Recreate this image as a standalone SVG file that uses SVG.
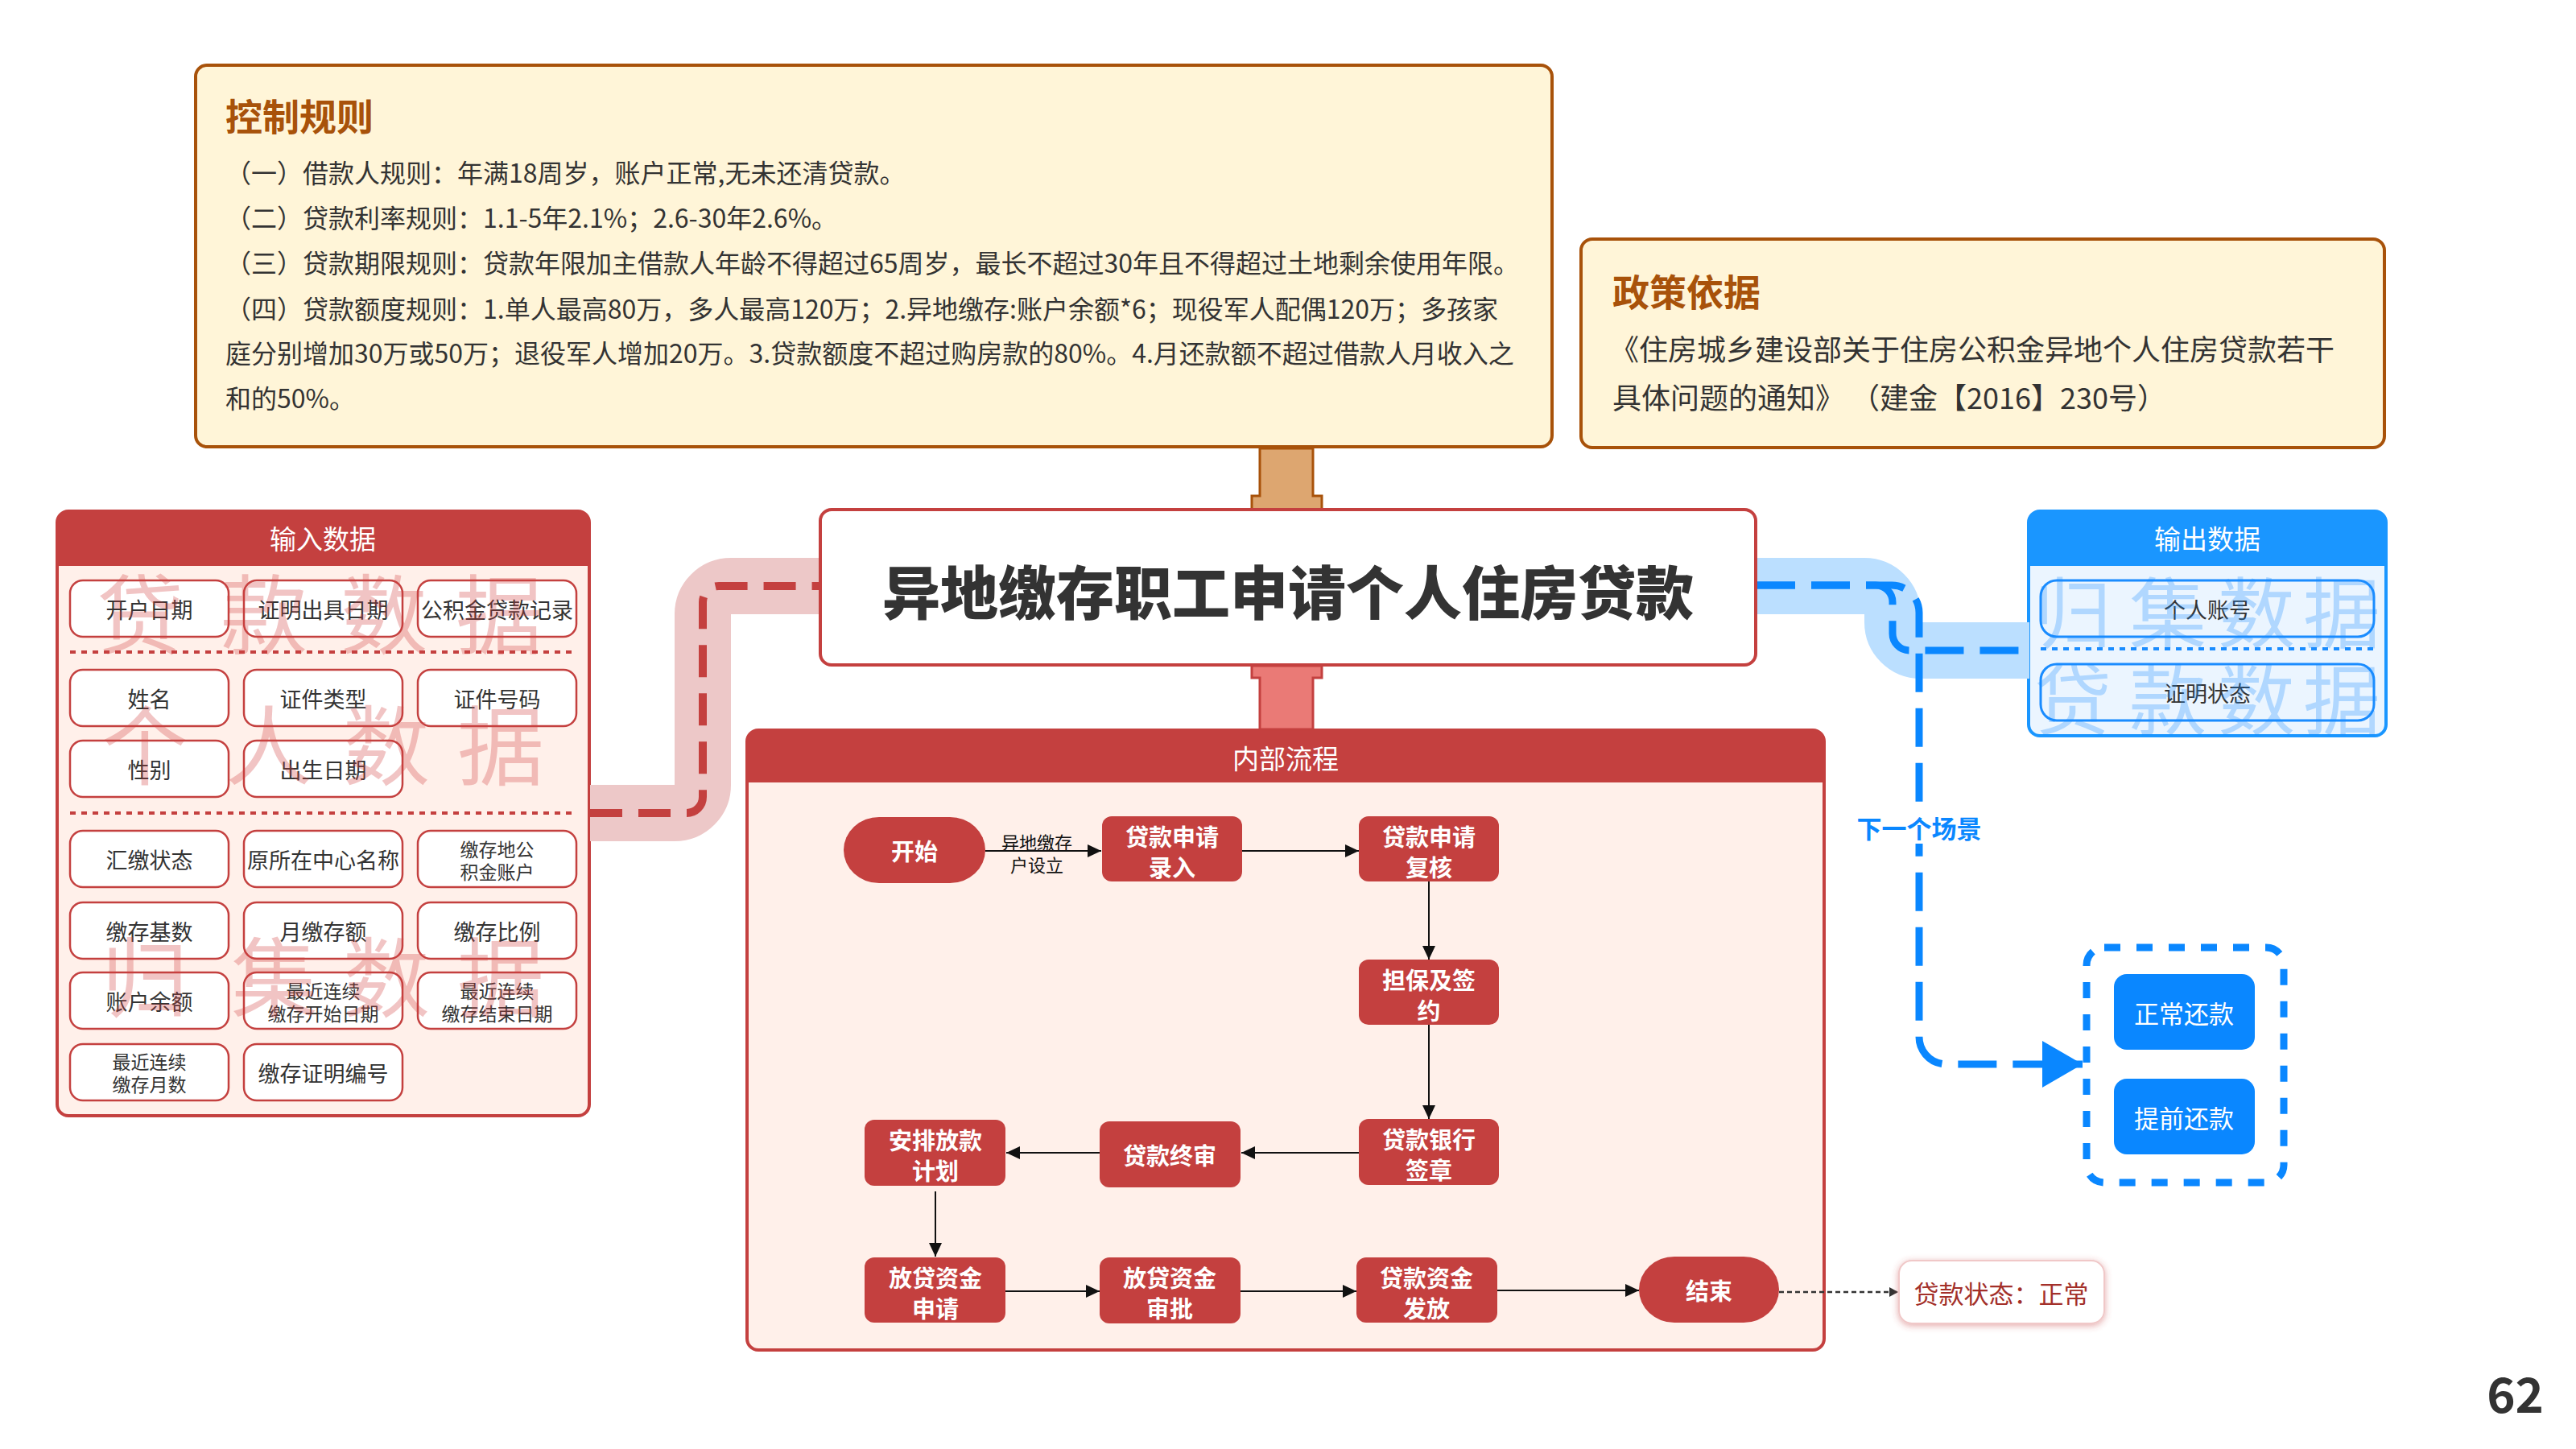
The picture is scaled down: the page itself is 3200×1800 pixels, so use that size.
<svg xmlns="http://www.w3.org/2000/svg" width="3200" height="1800" viewBox="0 0 3200 1800">
<defs>
<style>
text{font-family:"Noto Sans CJK SC","Noto Sans",sans-serif;dominant-baseline:central}
.rule{font-size:32px;fill:#333}
.pol{font-size:36px;fill:#333}
.ttl{font-size:46px;font-weight:bold;fill:#A8520A}
.hdr{font-size:33px;fill:#fff;text-anchor:middle}
.cell{fill:#fff;stroke:#C4403F;stroke-width:2.5}
.ct{font-size:27px;fill:#333;text-anchor:middle}
.ct2{font-size:23px;fill:#333;text-anchor:middle}
.ocell{fill:none;stroke:#1A8CFF;stroke-width:3}
.wmr{font-size:108px;fill:#D24040;opacity:.3;text-anchor:middle}
.wmb{font-size:96px;fill:#1A8CFF;opacity:.28;text-anchor:middle}
.fn{fill:#C4403F}
.ft{font-size:29px;font-weight:bold;fill:#fff;text-anchor:middle}
.flow{stroke:#111;stroke-width:2;fill:none;marker-end:url(#ah)}
.bt{fill:#0A87FF}
.btt{font-size:31px;fill:#fff;text-anchor:middle}
</style>
<marker id="ah" markerUnits="userSpaceOnUse" markerWidth="18" markerHeight="16" refX="17" refY="8" orient="auto"><path d="M0,0 L17,8 L0,16 Z" fill="#111"/></marker>
<marker id="ahs" markerUnits="userSpaceOnUse" markerWidth="12" markerHeight="12" refX="11" refY="6" orient="auto"><path d="M0,0 L11,6 L0,12 Z" fill="#333"/></marker>
<marker id="ahb" markerUnits="userSpaceOnUse" markerWidth="52" markerHeight="60" refX="50" refY="29" orient="auto"><path d="M0,0 L50,29 L0,58 Z" fill="#0A87FF"/></marker>
<filter id="glow" x="-20%" y="-30%" width="140%" height="160%"><feDropShadow dx="0" dy="2" stdDeviation="4" flood-color="#C44040" flood-opacity="0.45"/></filter>
</defs>
<rect width="3200" height="1800" fill="#fff"/>

<g id="control-rules">
<rect x="243" y="81" width="1685" height="474" rx="14" fill="#FFF5D8" stroke="#A8520A" stroke-width="4"/>
<text class="ttl" x="280" y="142">控制规则</text>
<text class="rule" x="280" y="213">（一）借款人规则：年满18周岁，账户正常,无未还清贷款。</text>
<text class="rule" x="280" y="269">（二）贷款利率规则：1.1-5年2.1%；2.6-30年2.6%。</text>
<text class="rule" x="280" y="325">（三）贷款期限规则：贷款年限加主借款人年龄不得超过65周岁，最长不超过30年且不得超过土地剩余使用年限。</text>
<text class="rule" x="280" y="382">（四）贷款额度规则：1.单人最高80万，多人最高120万；2.异地缴存:账户余额*6；现役军人配偶120万；多孩家</text>
<text class="rule" x="280" y="437">庭分别增加30万或50万；退役军人增加20万。3.贷款额度不超过购房款的80%。4.月还款额不超过借款人月收入之</text>
<text class="rule" x="280" y="493">和的50%。</text>
</g>

<g id="policy">
<rect x="1964" y="297" width="998" height="259" rx="14" fill="#FFF5D8" stroke="#A8520A" stroke-width="4"/>
<text class="ttl" x="2003" y="360">政策依据</text>
<text class="pol" x="2000" y="432">《住房城乡建设部关于住房公积金异地个人住房贷款若干</text>
<text class="pol" x="2003" y="492">具体问题的通知》 （建金【2016】230号）</text>
</g>

<g id="input-panel">
<rect x="71" y="635" width="661" height="751" rx="14" fill="#FFF0EA" stroke="#C4403F" stroke-width="4"/>
<path d="M71,703 V649 Q71,635 85,635 H718 Q732,635 732,649 V703 Z" fill="#C4403F"/>
<text class="hdr" x="401" y="668">输入数据</text>
<line x1="87" y1="810" x2="716" y2="810" stroke="#C4403F" stroke-width="4" stroke-dasharray="7 7"/>
<line x1="87" y1="1010" x2="716" y2="1010" stroke="#C4403F" stroke-width="4" stroke-dasharray="7 7"/>
</g>

<g id="process-panel">
<rect x="928" y="907" width="1338" height="770" rx="14" fill="#FFF0EA" stroke="#C4403F" stroke-width="4"/>
<path d="M928,972 V921 Q928,907 942,907 H2252 Q2266,907 2266,921 V972 Z" fill="#C4403F"/>
<text class="hdr" x="1597" y="941">内部流程</text>
</g>

<g id="output-panel">
<rect x="2520" y="635" width="444" height="279" rx="14" fill="#EBF5FF" stroke="#1A96FF" stroke-width="4"/>
<path d="M2520,703 V649 Q2520,635 2534,635 H2950 Q2964,635 2964,649 V703 Z" fill="#1A96FF"/>
<text class="hdr" x="2742" y="668">输出数据</text>
<line x1="2535" y1="806" x2="2949" y2="806" stroke="#1A8CFF" stroke-width="4" stroke-dasharray="7 7"/>
</g>

<g id="next-scene">
<rect x="2592" y="1177" width="245" height="292" rx="22" fill="none" stroke="#0A87FF" stroke-width="9" stroke-dasharray="20 20"/>
</g>

<g id="connectors">
<path d="M1565,557 H1631 V616 H1642 V633 H1555 V616 H1565 Z" fill="#DDA670" stroke="#A8520A" stroke-width="3"/>
<path d="M1555,827 H1642 V842 H1631 V906 H1565 V842 H1555 Z" fill="#EA7A76" stroke="#C4403F" stroke-width="3"/>
<path d="M733,1010 H838 A35,35 0 0 0 873,975 V763 A35,35 0 0 1 908,728 H1020" fill="none" stroke="#EDC8C8" stroke-width="70"/>
<path d="M733,1010 H853 A20,20 0 0 0 873,990 V748 A20,20 0 0 1 893,728 H1020" fill="none" stroke="#C4403F" stroke-width="10" stroke-dasharray="40 20"/>
<path d="M2180,728 H2316 A35,35 0 0 1 2351,763 V773 A35,35 0 0 0 2386,808 H2521" fill="none" stroke="#BBDFFF" stroke-width="70"/>
<path d="M2182,727 H2330 A21,21 0 0 1 2351,748 V787 A21,21 0 0 0 2372,808 H2519" fill="none" stroke="#0A87FF" stroke-width="9" stroke-dasharray="48 20"/>
<path d="M2182,727 H2350 A34,34 0 0 1 2384,761 V1288 A34,34 0 0 0 2418,1322 H2587" fill="none" stroke="#0A87FF" stroke-width="9" stroke-dasharray="48 20" marker-end="url(#ahb)"/>
<path class="flow" d="M1224,1057 H1368"/>
<path class="flow" d="M1543,1057 H1688"/>
<path class="flow" d="M1775,1095 V1192"/>
<path class="flow" d="M1775,1273 V1390"/>
<path class="flow" d="M1688,1432 H1542"/>
<path class="flow" d="M1366,1432 H1250"/>
<path class="flow" d="M1162,1480 V1561"/>
<path class="flow" d="M1249,1604 H1366"/>
<path class="flow" d="M1541,1604 H1685"/>
<path class="flow" d="M1860,1603 H2036"/>
<path d="M2210,1605 H2358" fill="none" stroke="#333" stroke-width="2.5" stroke-dasharray="6 4" marker-end="url(#ahs)"/>
<text x="1288" y="1045" font-size="22" fill="#111" text-anchor="middle">异地缴存</text>
<text x="1288" y="1073" font-size="22" fill="#111" text-anchor="middle">户设立</text>
<rect x="2300" y="1006" width="170" height="42" fill="#fff"/>
<text x="2384" y="1027" font-size="31" font-weight="bold" fill="#0A87FF" text-anchor="middle">下一个场景</text>
</g>

<g id="main-title">
<rect x="1019" y="633" width="1162" height="193" rx="14" fill="#fff" stroke="#C4403F" stroke-width="4"/>
<text x="1600" y="731" font-size="72" font-weight="900" fill="#333" text-anchor="middle">异地缴存职工申请个人住房贷款</text>
</g>

<g id="input-cells">
<g id="in-1"><rect class="cell" x="87" y="721" width="197" height="70" rx="16"/><text class="ct" x="185.5" y="756">开户日期</text></g>
<g id="in-2"><rect class="cell" x="303" y="721" width="197" height="70" rx="16"/><text class="ct" x="401.5" y="756">证明出具日期</text></g>
<g id="in-3"><rect class="cell" x="519" y="721" width="197" height="70" rx="16"/><text class="ct" x="617.5" y="756">公积金贷款记录</text></g>
<g id="in-4"><rect class="cell" x="87" y="832" width="197" height="70" rx="16"/><text class="ct" x="185.5" y="867">姓名</text></g>
<g id="in-5"><rect class="cell" x="303" y="832" width="197" height="70" rx="16"/><text class="ct" x="401.5" y="867">证件类型</text></g>
<g id="in-6"><rect class="cell" x="519" y="832" width="197" height="70" rx="16"/><text class="ct" x="617.5" y="867">证件号码</text></g>
<g id="in-7"><rect class="cell" x="87" y="920" width="197" height="70" rx="16"/><text class="ct" x="185.5" y="955">性别</text></g>
<g id="in-8"><rect class="cell" x="303" y="920" width="197" height="70" rx="16"/><text class="ct" x="401.5" y="955">出生日期</text></g>
<g id="in-9"><rect class="cell" x="87" y="1032" width="197" height="70" rx="16"/><text class="ct" x="185.5" y="1067">汇缴状态</text></g>
<g id="in-10"><rect class="cell" x="303" y="1032" width="197" height="70" rx="16"/><text class="ct" x="401.5" y="1067">原所在中心名称</text></g>
<g id="in-11"><rect class="cell" x="519" y="1032" width="197" height="70" rx="16"/><text class="ct2" x="617.5" y="1054">缴存地公</text><text class="ct2" x="617.5" y="1082">积金账户</text></g>
<g id="in-12"><rect class="cell" x="87" y="1121" width="197" height="70" rx="16"/><text class="ct" x="185.5" y="1156">缴存基数</text></g>
<g id="in-13"><rect class="cell" x="303" y="1121" width="197" height="70" rx="16"/><text class="ct" x="401.5" y="1156">月缴存额</text></g>
<g id="in-14"><rect class="cell" x="519" y="1121" width="197" height="70" rx="16"/><text class="ct" x="617.5" y="1156">缴存比例</text></g>
<g id="in-15"><rect class="cell" x="87" y="1208" width="197" height="70" rx="16"/><text class="ct" x="185.5" y="1243">账户余额</text></g>
<g id="in-16"><rect class="cell" x="303" y="1208" width="197" height="70" rx="16"/><text class="ct2" x="401.5" y="1230">最近连续</text><text class="ct2" x="401.5" y="1258">缴存开始日期</text></g>
<g id="in-17"><rect class="cell" x="519" y="1208" width="197" height="70" rx="16"/><text class="ct2" x="617.5" y="1230">最近连续</text><text class="ct2" x="617.5" y="1258">缴存结束日期</text></g>
<g id="in-18"><rect class="cell" x="87" y="1297" width="197" height="70" rx="16"/><text class="ct2" x="185.5" y="1318">最近连续</text><text class="ct2" x="185.5" y="1346">缴存月数</text></g>
<g id="in-19"><rect class="cell" x="303" y="1297" width="197" height="70" rx="16"/><text class="ct" x="401.5" y="1332">缴存证明编号</text></g>
</g>
<g id="input-watermark">
<text class="wmr" x="174" y="757">贷</text><text class="wmr" x="328" y="757">款</text><text class="wmr" x="477" y="757">数</text><text class="wmr" x="620" y="757">据</text>
<text class="wmr" x="180" y="920">个</text><text class="wmr" x="334" y="920">人</text><text class="wmr" x="480" y="920">数</text><text class="wmr" x="622" y="920">据</text>
<text class="wmr" x="180" y="1208">归</text><text class="wmr" x="341" y="1208">集</text><text class="wmr" x="480" y="1208">数</text><text class="wmr" x="622" y="1208">据</text>
</g>

<g id="output-cells">
<g id="out-1"><rect class="ocell" x="2535" y="721" width="414" height="70" rx="20"/><text class="ct" x="2742" y="756">个人账号</text></g>
<g id="out-2"><rect class="ocell" x="2535" y="825" width="414" height="70" rx="20"/><text class="ct" x="2742" y="860">证明状态</text></g>
</g>
<g id="output-watermark">
<text class="wmb" x="2575" y="755">归</text><text class="wmb" x="2693" y="755">集</text><text class="wmb" x="2803" y="755">数</text><text class="wmb" x="2909" y="755">据</text>
<text class="wmb" x="2575" y="863">贷</text><text class="wmb" x="2693" y="863">款</text><text class="wmb" x="2803" y="863">数</text><text class="wmb" x="2909" y="863">据</text>
</g>

<g id="flow-nodes">
<g id="n-start"><rect class="fn" x="1048" y="1015" width="176" height="82" rx="44" ry="41"/><text class="ft" x="1136" y="1056">开始</text></g>
<g id="n-entry"><rect class="fn" x="1369" y="1014" width="174" height="81" rx="12"/><text class="ft" x="1456" y="1038">贷款申请</text><text class="ft" x="1456" y="1076">录入</text></g>
<g id="n-review"><rect class="fn" x="1688" y="1014" width="174" height="81" rx="12"/><text class="ft" x="1775" y="1038">贷款申请</text><text class="ft" x="1775" y="1076">复核</text></g>
<g id="n-sign"><rect class="fn" x="1688" y="1192" width="174" height="81" rx="12"/><text class="ft" x="1775" y="1216">担保及签</text><text class="ft" x="1775" y="1254">约</text></g>
<g id="n-bank"><rect class="fn" x="1688" y="1390" width="174" height="82" rx="12"/><text class="ft" x="1775" y="1414">贷款银行</text><text class="ft" x="1775" y="1452">签章</text></g>
<g id="n-final"><rect class="fn" x="1366" y="1393" width="175" height="82" rx="12"/><text class="ft" x="1453" y="1434">贷款终审</text></g>
<g id="n-plan"><rect class="fn" x="1074" y="1391" width="175" height="82" rx="12"/><text class="ft" x="1162" y="1415">安排放款</text><text class="ft" x="1162" y="1453">计划</text></g>
<g id="n-apply"><rect class="fn" x="1074" y="1562" width="175" height="81" rx="12"/><text class="ft" x="1162" y="1586">放贷资金</text><text class="ft" x="1162" y="1624">申请</text></g>
<g id="n-approve"><rect class="fn" x="1366" y="1562" width="175" height="82" rx="12"/><text class="ft" x="1453" y="1586">放贷资金</text><text class="ft" x="1453" y="1624">审批</text></g>
<g id="n-release"><rect class="fn" x="1685" y="1562" width="175" height="81" rx="12"/><text class="ft" x="1772" y="1586">贷款资金</text><text class="ft" x="1772" y="1624">发放</text></g>
<g id="n-end"><rect class="fn" x="2036" y="1561" width="174" height="82" rx="44" ry="41"/><text class="ft" x="2123" y="1602">结束</text></g>
</g>

<g id="status"><rect x="2359" y="1566" width="255" height="78" rx="16" fill="#fff" stroke="#F0C8C8" stroke-width="2" filter="url(#glow)"/><text x="2486" y="1605" font-size="31" fill="#A3302A" text-anchor="middle">贷款状态：正常</text></g>

<g id="scene-items">
<g id="s-normal"><rect class="bt" x="2626" y="1210" width="175" height="94" rx="16"/><text class="btt" x="2713" y="1257">正常还款</text></g>
<g id="s-early"><rect class="bt" x="2626" y="1340" width="175" height="94" rx="16"/><text class="btt" x="2713" y="1387">提前还款</text></g>
</g>

<text x="3160" y="1728" font-size="60" font-weight="bold" fill="#333" text-anchor="end" font-family="Roboto, 'Liberation Sans', sans-serif">62</text>
</svg>
